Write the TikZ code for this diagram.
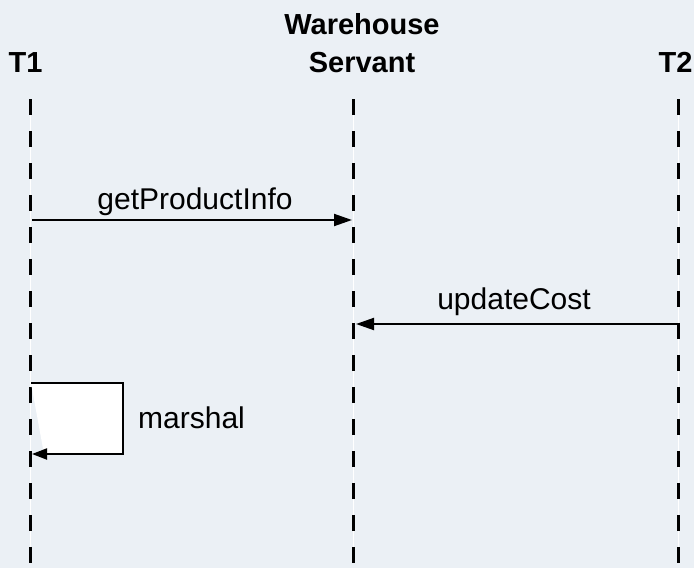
\documentclass[tikz,border=0pt]{standalone}
\usepackage{fontspec}
\setmainfont{Liberation Sans}
\usetikzlibrary{arrows.meta}
\usetikzlibrary{positioning}
\definecolor{bgcol}{HTML}{EBF0F5}
\tikzset{head/.style = {font=\fontsize{29}{38}\selectfont\bfseries, align=center, inner sep=0}}
\tikzset{msg/.style = {font=\fontsize{30}{34}\selectfont, inner sep=0}}
\tikzset{call/.style = {line width=2pt, -{Triangle[length=18pt, width=12pt]}}}
\tikzset{life/.style = {line width=3pt, dash pattern=on 16pt off 16pt}}

\begin{document}
\begin{tikzpicture}[x=1pt, y=-1pt]
    \fill[bgcol] (0,0) rectangle (694,568);
    \useasboundingbox (0,0) rectangle (694,568);
    % lifelines
    \foreach \name/\x in {t1/30, ws/353, t2/678}{
      \coordinate (\name top) at (\x, 99);
      \coordinate (\name bot) at (\x, 563);
      \draw [white, line width=1pt] (\name top) -- (\name bot);
      \draw [life] (\name top) -- (\name bot);
    }
    \node [head, anchor=base] (t1 head) at (25.5, 72) {T1};
    \node [head, anchor=base] (ws head) at (362, 72) {Warehouse\\Servant};
    \node [head, anchor=base] (t2 head) at (675.5, 72) {T2};
    % messages
    \coordinate (get from) at (32, 220);
    \coordinate (get to) at (352, 220);
    \draw [call] (get from) -- (get to);
    \node [msg, anchor=base] (get label) at (195, 209) {getProductInfo};
    \coordinate (upd from) at (677, 324);
    \coordinate (upd to) at (356, 324);
    \draw [call] (upd from) -- (upd to);
    \node [msg, anchor=base] (upd label) at (514, 309) {updateCost};
    % self call
    \coordinate (mar from) at (31, 383);
    \coordinate (mar corner a) at (123, 383);
    \coordinate (mar corner b) at (123, 454);
    \coordinate (mar to) at (32, 454);
    \fill [white] (mar from) -- (mar corner a) -- (mar corner b) -- (44, 454) -- cycle;
    \draw [call, -{Triangle[length=15pt, width=11pt]}] (mar from) -- (mar corner a) -- (mar corner b) -- (mar to);
    \node [msg, anchor=base west] (mar label) at (138, 428) {marshal};
\end{tikzpicture}
\end{document}
